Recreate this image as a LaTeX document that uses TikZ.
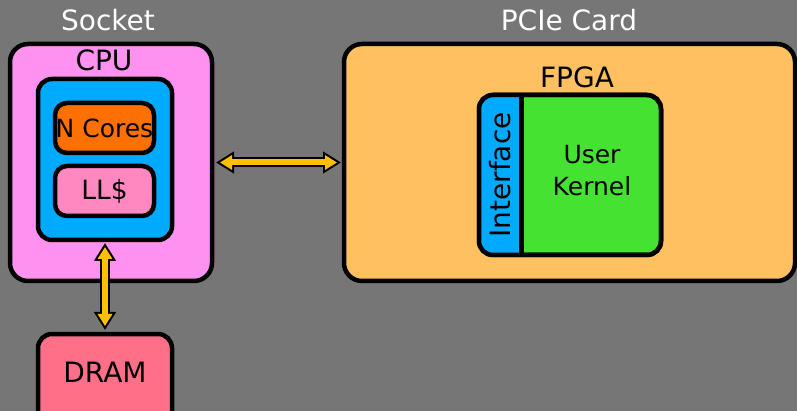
\documentclass[tikz,border=0pt]{standalone}
\usepackage{fontspec}
\setmainfont{DejaVu Sans}
\usepackage{tikz}
\usetikzlibrary{calc,positioning,arrows.meta}
\usepackage{xcolor}
\definecolor{bggray}{HTML}{767676}
\definecolor{socketpink}{HTML}{FF91F0}
\definecolor{cpublue}{HTML}{00AAFF}
\definecolor{coreorange}{HTML}{FF7000}
\definecolor{llcpink}{HTML}{FF88C0}
\definecolor{dramred}{HTML}{FF7088}
\definecolor{cardorange}{HTML}{FFC060}
\definecolor{kernelgreen}{HTML}{46E232}
\definecolor{linkyellow}{HTML}{FFC000}

\begin{document}
\begin{tikzpicture}[x=1pt, y=-1pt,
  box/.style={draw, line width=4.5pt, outer sep=0pt, inner sep=0pt},
  title/.style={white, font=\fontsize{28}{30}\selectfont},
  big/.style={font=\fontsize{28}{30}\selectfont},
  small/.style={font=\fontsize{25}{32}\selectfont},
  linkout/.style={line width=10pt, black, {Triangle[length=18pt,width=21pt]}-{Triangle[length=18pt,width=21pt]}},
  linkin/.style={line width=6pt, linkyellow, {Triangle[length=12pt,width=14pt]}-{Triangle[length=12pt,width=14pt]}}]
  \clip (0,0) rectangle (797,411);
  \fill[bggray] (0,0) rectangle (797,411);

  \node[title] (sockettitle) at (108,20) {Socket};
  \node[title] (cardtitle) at (569,20) {PCIe Card};

  \node[box, fill=socketpink, rounded corners=18pt, minimum width=202, minimum height=237] (socket) at (111,162.5) {};
  \node[big] (cpulabel) at (104,60.5) {CPU};
  \node[box, fill=cpublue, rounded corners=14pt, minimum width=134, minimum height=161] (cpu) at (105,159.5) {};
  \node[box, small, fill=coreorange, rounded corners=12pt, minimum width=99, minimum height=50] (cores) at (104.5,128) {N Cores};
  \node[box, small, font=\fontsize{26.5}{32}\selectfont, fill=llcpink, rounded corners=12pt, minimum width=99, minimum height=50] (llc) at (104.5,191) {LL\$};
  \node[box, big, fill=dramred, rounded corners=14pt, minimum width=134, text height=48pt, text depth=56pt, anchor=north] (dram) at (105,334) {DRAM};

  \node[box, fill=cardorange, rounded corners=18pt, minimum width=451, minimum height=237] (card) at (569.5,162.5) {};
  \node[big] (fpgalabel) at (577,77) {FPGA};
  \node[box, fill=kernelgreen, rounded corners=14pt, minimum width=182, minimum height=160] (fpga) at (570,175) {};
  \begin{scope}
    \clip[rounded corners=14pt] (fpga.south west) rectangle (fpga.north east);
    \node[big, fill=cpublue, inner sep=0pt, rotate=90, minimum width=160, minimum height=42, anchor=north] (iface) at (fpga.west) {Interface};
  \end{scope}
  \draw[line width=4.5pt] (iface.south east) -- (iface.south west);
  \draw[line width=4.5pt, rounded corners=14pt] (fpga.south west) rectangle (fpga.north east);
  \node[small, align=center] (kernel) at (592,171) {User\\Kernel};

  \draw[linkout, shorten <=4pt, shorten >=3pt] (socket.east) -- (card.west);
  \draw[linkin, shorten <=8pt, shorten >=7pt] (socket.east) -- (card.west);
  \draw[linkout, shorten <=3pt, shorten >=4pt] (cpu.south) -- (dram.north);
  \draw[linkin, shorten <=7pt, shorten >=8pt] (cpu.south) -- (dram.north);
\end{tikzpicture}
\end{document}
